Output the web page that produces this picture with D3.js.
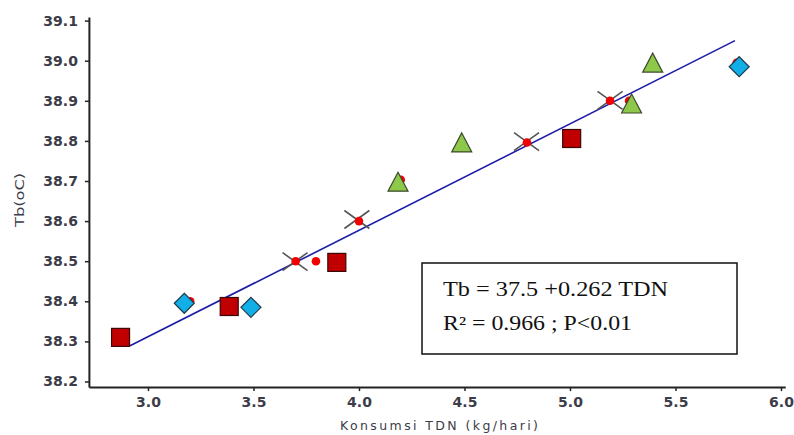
<!DOCTYPE html>
<html><head><meta charset="utf-8">
<script src="https://cdn.jsdelivr.net/npm/d3@7"></script>
<style>html,body{margin:0;padding:0;background:#fff;}</style>
</head><body>
<svg id="chart" width="794" height="435"></svg>
<script>
// Data
const xTicks = [3.0, 3.5, 4.0, 4.5, 5.0, 5.5, 6.0];
const yTicks = [38.2, 38.3, 38.4, 38.5, 38.6, 38.7, 38.8, 38.9, 39.0, 39.1];
const squares = [[2.87, 38.31], [3.385, 38.387], [3.895, 38.497], [5.008, 38.806]];
const diamonds = [[3.172, 38.395], [3.488, 38.385], [5.802, 38.985]];
const triangles = [[4.185, 38.697], [4.487, 38.795], [5.292, 38.892], [5.392, 38.994]];
const crosses = [[3.697, 38.499], [3.99, 38.604], [4.794, 38.798], [5.19, 38.901]];
const redDots = [[3.20, 38.40], [3.70, 38.50], [3.796, 38.50], [4.0, 38.60], [4.198, 38.703], [4.796, 38.796], [5.19, 38.90], [5.28, 38.90], [5.79, 38.995]];
const fitX = [2.915, 5.782];
const fitY = [38.289, 39.05];
const eqLine1 = "Tb = 37.5 +0.262 TDN";
const eqLine2 = "R\u00B2 = 0.966 ; P<0.01";
const xTitle = "Konsumsi TDN (kg/hari)";
const yTitle = "Tb(oC)";

const svg = d3.select("#chart");
const x = d3.scaleLinear().domain([2.72, 6.02]).range([88.9, 785.2]);
const y = d3.scaleLinear().domain([38.186, 39.109]).range([387.1, 17]);

// Axes
const xAxis = svg.append("g").attr("transform", `translate(0,${y(38.186)})`)
  .call(d3.axisBottom(x).tickValues(xTicks).tickFormat(d3.format(".1f")).tickSizeInner(4).tickSizeOuter(0).tickPadding(6));
const yAxis = svg.append("g").attr("transform", `translate(${x(2.72)},0)`)
  .call(d3.axisLeft(y).tickValues(yTicks).tickFormat(d3.format(".1f")).tickSizeInner(4).tickSizeOuter(0).tickPadding(7));
[xAxis, yAxis].forEach(g => {
  g.select(".domain").attr("stroke", "#222").attr("stroke-width", 2);
  g.selectAll(".tick line").attr("stroke", "#222").attr("stroke-width", 1.5);
  g.selectAll(".tick text").attr("fill", "#3c3c48").style("font-family", "DejaVu Sans").style("font-size", "14px").style("font-weight", "bold");
});

// Axis titles
svg.append("text").attr("x", 439).attr("y", 430).attr("text-anchor", "middle")
  .attr("textLength", 198).attr("lengthAdjust", "spacing")
  .style("font-family", "DejaVu Sans").style("font-size", "12.5px").attr("fill", "#3c3c48").text(xTitle);
svg.append("text").attr("transform", "translate(24,200) rotate(-90)").attr("text-anchor", "middle")
  .attr("textLength", 54).attr("lengthAdjust", "spacingAndGlyphs")
  .style("font-family", "DejaVu Sans").style("font-size", "13px").attr("fill", "#3c3c48").text(yTitle);

// Fit line
svg.append("line").attr("x1", x(fitX[0])).attr("y1", y(fitY[0])).attr("x2", x(fitX[1])).attr("y2", y(fitY[1]))
  .attr("stroke", "#1c1ca8").attr("stroke-width", 1.6);

// Crosses
svg.append("g").selectAll("path").data(crosses).join("path")
  .attr("d", d => { const cx = x(d[0]), cy = y(d[1]);
    return `M${cx-12.5},${cy-9}L${cx+12.5},${cy+9}M${cx-12.5},${cy+9}L${cx+12.5},${cy-9}`; })
  .attr("stroke", "#555").attr("stroke-width", 1.6).attr("fill", "none");

// Red dots
svg.append("g").selectAll("circle").data(redDots).join("circle")
  .attr("cx", d => x(d[0])).attr("cy", d => y(d[1])).attr("r", 4.3).attr("fill", "#f00000");

// Squares
svg.append("g").selectAll("rect").data(squares).join("rect")
  .attr("x", d => x(d[0]) - 9).attr("y", d => y(d[1]) - 9).attr("width", 18).attr("height", 18)
  .attr("fill", "#c00000").attr("stroke", "#3a0808").attr("stroke-width", 1.2);

// Diamonds
svg.append("g").selectAll("path").data(diamonds).join("path")
  .attr("d", d => { const cx = x(d[0]), cy = y(d[1]);
    return `M${cx},${cy-10}L${cx+10},${cy}L${cx},${cy+10}L${cx-10},${cy}Z`; })
  .attr("fill", "#12aee8").attr("stroke", "#1e3b48").attr("stroke-width", 1.2);

// Triangles
svg.append("g").selectAll("path").data(triangles).join("path")
  .attr("d", d => { const cx = x(d[0]), cy = y(d[1]);
    return `M${cx},${cy-10}L${cx+10},${cy+9}L${cx-10},${cy+9}Z`; })
  .attr("fill", "#8ec84a").attr("stroke", "#3c4a2c").attr("stroke-width", 1.2);

// Equation box
svg.append("rect").attr("x", 422).attr("y", 263).attr("width", 315).attr("height", 91)
  .attr("fill", "#fff").attr("stroke", "#111").attr("stroke-width", 1.5);
svg.append("text").attr("x", 443).attr("y", 296).attr("textLength", 225).attr("lengthAdjust", "spacingAndGlyphs")
  .style("font-family", "Liberation Serif").style("font-size", "20px").attr("fill", "#111").text(eqLine1);
svg.append("text").attr("x", 443).attr("y", 330).attr("textLength", 189).attr("lengthAdjust", "spacingAndGlyphs")
  .style("font-family", "Liberation Serif").style("font-size", "20px").attr("fill", "#111").text(eqLine2);
</script>
</body></html>
